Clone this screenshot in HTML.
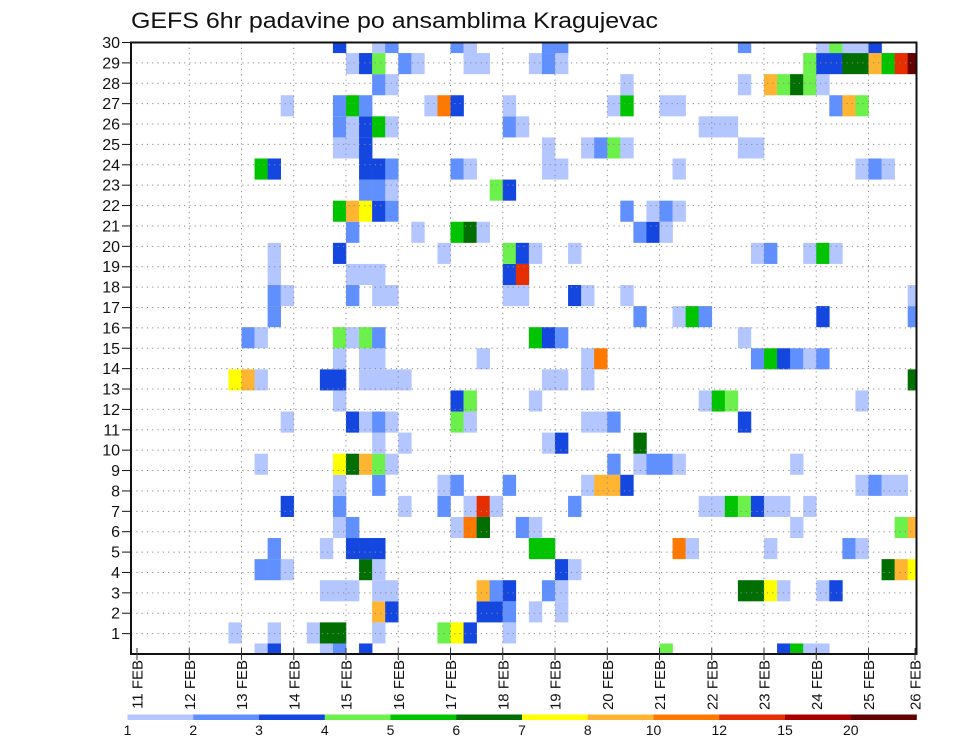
<!DOCTYPE html>
<html><head><meta charset="utf-8"><style>
html,body{margin:0;padding:0;background:#fff;width:960px;height:742px;overflow:hidden}
svg{display:block;font-family:"Liberation Sans",sans-serif}
</style></head><body>
<svg id="chart" width="960" height="742" viewBox="0 0 960 742" xmlns="http://www.w3.org/2000/svg">
<text x="131" y="28" font-size="22" fill="#111" textLength="527" lengthAdjust="spacingAndGlyphs">GEFS 6hr padavine po ansamblima Kragujevac</text>
<defs><clipPath id="plotclip"><rect x="131" y="42.5" width="785.5" height="611.5"/></clipPath></defs>
<g id="cells" clip-path="url(#plotclip)"></g>
<g id="grid"></g>
<rect x="131" y="42.5" width="785.5" height="611.5" fill="none" stroke="#111" stroke-width="2"/>
<g id="yaxis"></g>
<g id="xaxis"></g>
<g id="legend"></g>
</svg>
<script>
const dayLabels = ["11 FEB","12 FEB","13 FEB","14 FEB","15 FEB","16 FEB","17 FEB","18 FEB","19 FEB","20 FEB","21 FEB","22 FEB","23 FEB","24 FEB","25 FEB","26 FEB"];
const yTicks = [1,2,3,4,5,6,7,8,9,10,11,12,13,14,15,16,17,18,19,20,21,22,23,24,25,26,27,28,29,30];
const binEdges = [1,2,3,4,5,6,7,8,10,12,15,20];
const binColors = ["#b4c6ff","#6090ff","#1446e0","#6cf04c","#00c400","#006e00","#ffff00","#ffb432","#ff7800","#e62e00","#a80000","#640000"];
// per ensemble member (1..30): "step:mm" where step = 6-hour step since 11 FEB 00z
const member30 = "15:3.5 18:1.5 19:2.5 24:2.5 25:1.5 31:2.5 32:2.5 46:2.5 52:1.5 53:4.5 54:1.5 55:1.5 56:3.5";
const member29 = "16:1.5 17:3.5 18:4.5 20:2.5 21:1.5 25:1.5 26:1.5 30:1.5 31:2.5 32:1.5 51:4.5 52:3.5 53:3.5 54:6.5 55:6.5 56:9 57:5.5 58:13 59:25";
const member28 = "18:2.5 19:1.5 37:1.5 46:1.5 48:9 49:4.5 50:6.5 51:4.5 52:1.5";
const member27 = "11:1.5 15:2.5 16:5.5 17:2.5 22:1.5 23:11 24:3.5 28:1.5 36:1.5 37:5.5 40:1.5 41:1.5 53:2.5 54:9 55:4.5";
const member26 = "15:2.5 16:1.5 17:3.5 18:5.5 19:1.5 28:2.5 29:1.5 43:1.5 44:1.5 45:1.5";
const member25 = "15:1.5 16:1.5 17:3.5 31:1.5 34:1.5 35:2.5 36:4.5 37:1.5 46:1.5 47:1.5";
const member24 = "9:5.5 10:3.5 17:3.5 18:3.5 19:2.5 24:2.5 25:1.5 31:1.5 32:1.5 41:1.5 55:1.5 56:2.5 57:1.5";
const member23 = "17:2.5 18:2.5 19:1.5 27:4.5 28:3.5";
const member22 = "15:5.5 16:9 17:7.5 18:3.5 19:2.5 37:2.5 39:1.5 40:2.5 41:1.5";
const member21 = "16:2.5 21:1.5 24:5.5 25:6.5 26:1.5 38:2.5 39:3.5 40:1.5";
const member20 = "10:1.5 15:3.5 23:1.5 28:4.5 29:3.5 30:1.5 33:1.5 47:1.5 48:2.5 51:1.5 52:5.5 53:1.5";
const member19 = "10:1.5 16:1.5 17:1.5 18:1.5 28:3.5 29:13";
const member18 = "10:2.5 11:1.5 16:2.5 18:1.5 19:1.5 28:1.5 29:1.5 33:3.5 34:1.5 37:1.5 59:1.5";
const member17 = "10:2.5 38:2.5 41:1.5 42:5.5 43:2.5 52:3.5 59:2.5";
const member16 = "8:2.5 9:1.5 15:4.5 16:1.5 17:4.5 18:2.5 30:5.5 31:3.5 32:2.5 46:1.5";
const member15 = "15:1.5 17:1.5 18:1.5 26:1.5 34:1.5 35:11 47:2.5 48:5.5 49:3.5 50:2.5 51:1.5 52:2.5";
const member14 = "7:7.5 8:9 9:1.5 14:3.5 15:3.5 17:1.5 18:1.5 19:1.5 20:1.5 31:1.5 32:1.5 34:1.5 59:6.5";
const member13 = "15:1.5 24:3.5 25:4.5 30:1.5 43:1.5 44:5.5 45:4.5 55:1.5";
const member12 = "11:1.5 16:3.5 17:1.5 18:2.5 19:1.5 24:4.5 25:1.5 34:1.5 35:1.5 36:2.5 46:3.5";
const member11 = "18:1.5 20:1.5 31:1.5 32:3.5 38:6.5";
const member10 = "9:1.5 15:7.5 16:6.5 17:9 18:4.5 19:1.5 36:2.5 38:1.5 39:2.5 40:2.5 41:1.5 50:1.5";
const member9 = "15:1.5 18:2.5 23:1.5 24:2.5 28:2.5 34:1.5 35:9 36:9 37:3.5 55:1.5 56:2.5 57:1.5 58:1.5";
const member8 = "11:3.5 15:2.5 20:1.5 23:2.5 25:1.5 26:13 27:1.5 33:2.5 43:1.5 44:1.5 45:5.5 46:4.5 47:3.5 48:1.5 49:1.5 51:1.5";
const member7 = "15:1.5 16:2.5 24:1.5 25:11 26:6.5 29:2.5 30:1.5 50:1.5 58:4.5 59:9";
const member6 = "10:2.5 14:1.5 16:3.5 17:3.5 18:3.5 30:5.5 31:5.5 41:11 42:1.5 48:1.5 54:2.5 55:1.5";
const member5 = "9:2.5 10:2.5 11:1.5 17:6.5 18:1.5 32:3.5 33:1.5 57:6.5 58:9 59:7.5";
const member4 = "14:1.5 15:1.5 16:1.5 18:1.5 19:1.5 26:9 27:2.5 28:3.5 31:2.5 32:1.5 46:6.5 47:6.5 48:7.5 49:1.5 52:1.5 53:3.5";
const member3 = "18:9 19:3.5 26:3.5 27:3.5 28:2.5 30:1.5 32:1.5";
const member2 = "7:1.5 10:1.5 13:1.5 14:6.5 15:6.5 18:1.5 23:4.5 24:7.5 25:3.5 28:1.5";
const member1 = "9:1.5 10:3.5 14:1.5 15:2.5 17:3.5 40:4.5 49:3.5 50:5.5 51:1.5 52:1.5";
const members = [member1,member2,member3,member4,member5,member6,member7,member8,member9,member10,member11,member12,member13,member14,member15,member16,member17,member18,member19,member20,member21,member22,member23,member24,member25,member26,member27,member28,member29,member30];

const NS = "http://www.w3.org/2000/svg";
const X0 = 137, DAYW = 52.25, PL = 131, PR = 916.5, PT = 42.5, PB = 654;
function xDay(d){ return X0 + d*DAYW; }
function yAxis(v){ return PB - (v/30)*(PB-PT); }
function yMember(m){ return yAxis((m-1)*30/29); }
function colorFor(v){ let k=-1; for(let i=0;i<binEdges.length;i++){ if(v>=binEdges[i]) k=i; } return k<0?null:binColors[k]; }
function mk(tag, attrs, parent){ const e=document.createElementNS(NS,tag); for(const a in attrs) e.setAttribute(a, attrs[a]); parent.appendChild(e); return e; }

const gCells = document.getElementById('cells');
members.forEach((str, idx) => {
  const m = idx+1;
  str.trim().split(/\s+/).forEach(tok => {
    const [s, v] = tok.split(':').map(Number);
    const col = colorFor(v); if(!col) return;
    const cy = yMember(m);
    const r = mk('rect', {x: xDay(s/4), y: cy - 21.06/2, width: DAYW/4 + 0.3, height: 21.1, fill: col}, gCells);
    
    
  });
});

const gGrid = document.getElementById('grid');
yTicks.forEach(t => {
  if (t >= 30) return;
  const l = mk('line', {x1: PL, x2: PR, y1: yAxis(t), y2: yAxis(t), stroke: '#8a8a8a', 'stroke-width': 1, 'stroke-dasharray': '1.2 4.1'}, gGrid);
  
  
});
dayLabels.forEach((d, i) => {
  const x = xDay(i); if (i === 0 || x > PR - 2) return;
  const l = mk('line', {x1: x, x2: x, y1: PT, y2: PB, stroke: '#8a8a8a', 'stroke-width': 1, 'stroke-dasharray': '1.2 4.1'}, gGrid);
  
  
});

const gY = document.getElementById('yaxis');
yTicks.forEach(t => {
  const y = yAxis(t);
  const tk = mk('line', {x1: 122, x2: 131, y1: y, y2: y, stroke: '#111', 'stroke-width': 1}, gY);
  
  
  const tx = mk('text', {x: 120, y: y + 5.5, 'text-anchor': 'end', 'font-size': 16, fill: '#111'}, gY);
  tx.textContent = String(t);
  
  
});

const gX = document.getElementById('xaxis');
dayLabels.forEach((d, i) => {
  const x = Math.min(xDay(i), PR - 1.5);
  const tk = mk('line', {x1: x, x2: x, y1: PB - 6, y2: PB + 6, stroke: '#333', 'stroke-width': 1}, gX);
  
  
  const tx = mk('text', {x: 0, y: 0, 'text-anchor': 'end', 'font-size': 15, fill: '#111', transform: 'translate(' + (x + 5.5) + ',660) rotate(-90)'}, gX);
  tx.textContent = d;
  
  
});

const gL = document.getElementById('legend');
const LX0 = 127.5, LX1 = 916.5, segW = (LX1 - LX0) / binColors.length;
binColors.forEach((c, i) => {
  const r = mk('rect', {x: LX0 + i*segW, y: 714.5, width: segW + 0.3, height: 5.5, fill: c}, gL);
  
  
});
binEdges.forEach((e, i) => {
  const tx = mk('text', {x: LX0 + i*segW, y: 735, 'text-anchor': 'middle', 'font-size': 14, fill: '#111'}, gL);
  tx.textContent = String(e);
  
  
});
</script>
</body></html>
